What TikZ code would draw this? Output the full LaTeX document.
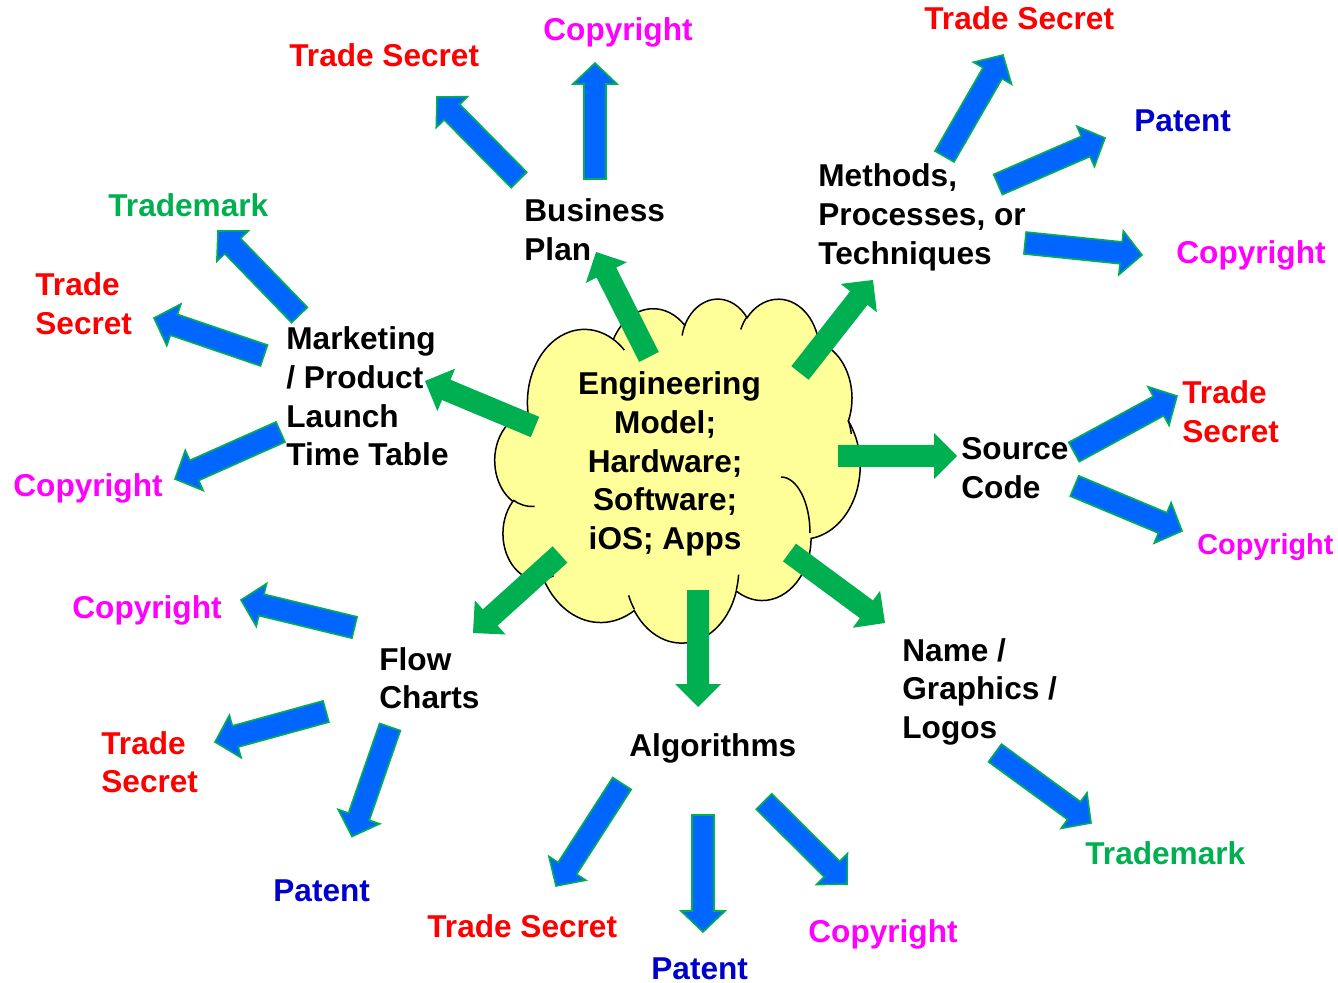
\documentclass[tikz,border=0pt]{standalone}
\usepackage{fontspec}
\setmainfont{Liberation Sans}
\usetikzlibrary{calc}
\definecolor{ablue}{HTML}{0066FF}
\definecolor{agreen}{HTML}{00B050}
\definecolor{cloudy}{HTML}{FFFF99}
\definecolor{tsred}{HTML}{FF0000}
\definecolor{cpmag}{HTML}{FF00FF}
\definecolor{ptblue}{HTML}{0000CC}
\definecolor{tmgreen}{HTML}{00B050}
\newcommand\blockarrow[6]{%
  \path[#1] let \p1=(#5), \p2=(#6), \n1={atan2(\y2-\y1,\x2-\x1)}, \n2={veclen(\x2-\x1,\y2-\y1)} in
   ($(\p1)+(\n1+90:#2)$) -- ($(\p1)+(\n1:\n2*1pt-#4)+(\n1+90:#2)$) -- ($(\p1)+(\n1:\n2*1pt-#4)+(\n1+90:#3)$) -- (\p2)
   -- ($(\p1)+(\n1:\n2*1pt-#4)+(\n1-90:#3)$) -- ($(\p1)+(\n1:\n2*1pt-#4)+(\n1-90:#2)$) -- ($(\p1)+(\n1-90:#2)$) -- cycle;}
\newcommand\bluearrow[2]{\blockarrow{bluearr}{5.5pt}{11pt}{10.5pt}{#1}{#2}}
\newcommand\greenarrow[2]{\blockarrow{greenarr}{5.5pt}{11.5pt}{11.5pt}{#1}{#2}}
\newcommand\lft[1]{\vtop{\halign{##\hfil\cr#1\crcr}}}
\newcommand\ctr[1]{\vtop{\halign{\hfil##\hfil\cr#1\crcr}}}
\newcommand\tsp{\hbox to 0.278em{}}
\begin{document}
\begin{tikzpicture}[x=0.5pt,y=-0.5pt,
  declare function={
    pang(\pw,\ph,\pa)=atan2(\pw*sin(\pa),\ph*cos(\pa));
    corr(\pw,\ph,\pa)=atan2(sin(pang(\pw,\ph,\pa)-\pa),cos(pang(\pw,\ph,\pa)-\pa));
  },
  oarc/.style n args={4}{x radius=#1, y radius=#2,
    start angle={#3+corr(#1,#2,#3)},
    delta angle={#4+corr(#1,#2,#3+#4)-corr(#1,#2,#3)}},
  bluearr/.style={fill=ablue, draw=agreen, line width=0.8pt},
  greenarr/.style={fill=agreen},
  cloudline/.style={draw=black, line width=0.75pt},
  lbl/.style={font=\bfseries\fontsize{15.8}{19.3}\selectfont, inner sep=0pt, anchor=base west},
  ctrlbl/.style={font=\bfseries\fontsize{15.8}{19.3}\selectfont, inner sep=0pt, anchor=base}]
\useasboundingbox (0,0) rectangle (1338,983);
% cloud
\begin{scope}[shift={(495,298)}, xscale=0.0845, yscale=0.0796]
\path[cloudline, fill=cloudy] (390,1437)
  arc[oarc={675.3}{919}{-190.4875}{123.7805}]
  arc[oarc={533.3}{726.7}{-144.1024}{89.9452}]
  arc[oarc={436.5}{594.5}{-145.8079}{99.7230}]
  arc[oarc={485.7}{659.5}{-130.9861}{117.2417}]
  arc[oarc={533.3}{727.3}{-78.7089}{109.0269}]
  arc[oarc={677.5}{922}{-46.2673}{130.2690}]
  arc[oarc={578.5}{786.7}{0.6250}{114.0333}]
  arc[oarc={675.2}{921.5}{22.4516}{115.1726}]
  arc[oarc={772}{1054.3}{66.2426}{75.7110}]
  arc[oarc={436}{591.8}{-274.9421}{146.7356}]
  arc[oarc={434.5}{594.5}{-246.8285}{152.5189}] -- cycle;
\path[cloudline]
  (469.3,2617.7) arc[oarc={434.5}{594.5}{86.742}{26.4295}]
  (692.8,3489.9) arc[oarc={436}{591.8}{73.6105}{11.4475}]
  (1647.8,3909) arc[oarc={675.2}{921.5}{137.6242}{14.0811}]
  (2882.7,3475.1) arc[oarc={675.2}{921.5}{6.4533}{15.9984}]
  (4179.8,1535.4) arc[oarc={533.3}{727.3}{-30.3220}{18.0811}]
  (3832.4,542.6) arc[oarc={485.7}{659.5}{-13.7443}{14.8548}]
  (2907.8,395.2) arc[oarc={485.7}{659.5}{-149.1815}{18.1959}]
  (2214.1,472) arc[oarc={436.5}{594.5}{-163.4943}{19.0016}]
  (1400,519.2) arc[oarc={675.3}{919}{-66.7070}{12.3194}]
  (412.7,1578.9) arc[oarc={675.3}{919}{157.6544}{11.8582}];
\end{scope}
\path[cloudline] (781,477) arc[start angle=-90, end angle=0, x radius=29, y radius=56];
% green arrows
\greenarrow{649,357}{596,252}
\greenarrow{800,373}{873,280}
\greenarrow{535,427}{425,381}
\greenarrow{838,456}{957,456}
\greenarrow{560,554.5}{473,633}
\greenarrow{698,590}{698,707}
\greenarrow{789.5,552.5}{885,623}
% blue arrows
\bluearrow{519,180}{437,97}
\bluearrow{595,179}{595,63}
\bluearrow{944.5,156.5}{1003,55}
\bluearrow{998,184.5}{1105,138}
\bluearrow{1025,243}{1142,255}
\bluearrow{299.5,315}{218,231}
\bluearrow{264,355.5}{154,318}
\bluearrow{280.5,432}{175,479}
\bluearrow{1074,452}{1177,396}
\bluearrow{1074.5,486}{1182,531}
\bluearrow{354.5,627.5}{241,600}
\bluearrow{326,711.5}{215,742}
\bluearrow{390,727}{352,836.5}
\bluearrow{622,783.5}{556,886}
\bluearrow{703,815}{703,932}
\bluearrow{764,801.5}{847,884}
\bluearrow{995,753}{1091,823}
% central text
\node[ctrlbl] (eng) at (669.5,395) {\ctr{Engineering\cr Model;\tsp\cr Hardware;\tsp\cr Software;\tsp\cr iOS; Apps\tsp\cr}};
% main topics
\node[lbl] (bp) at (524,222) {\lft{Business\cr Plan}};
\node[lbl] (mpt) at (818,187) {\lft{Methods,\cr Processes, or\cr Techniques}};
\node[lbl] (mkt) at (286,350) {\lft{Marketing\cr / Product\cr Launch\cr Time Table}};
\node[lbl] (sc) at (961,460) {\lft{Source\cr Code}};
\node[lbl] (fc) at (379,670) {\lft{Flow\cr Charts}};
\node[lbl] (alg) at (629,756) {Algorithms};
\node[lbl] (ngl) at (902,661) {\lft{Name /\cr Graphics /\cr Logos}};
% labels
\node[lbl, text=cpmag] (c1) at (543,41) {Copyright};
\node[lbl, text=tsred] (t1) at (289,67) {Trade Secret};
\node[lbl, text=tsred] (t2) at (924,30) {Trade Secret};
\node[lbl, text=ptblue] (p1) at (1134,132) {Patent};
\node[lbl, text=cpmag] (c2) at (1176,264) {Copyright};
\node[lbl, text=tmgreen] (m1) at (108,217) {Trademark};
\node[lbl, text=tsred] (t3) at (35,296) {\lft{Trade\cr Secret}};
\node[lbl, text=cpmag] (c3) at (13,497) {Copyright};
\node[lbl, text=tsred] (t4) at (1182,404) {\lft{Trade\cr Secret}};
\node[lbl, text=cpmag, font=\bfseries\fontsize{14.4}{17}\selectfont] (c4) at (1197,554) {Copyright};
\node[lbl, text=cpmag] (c5) at (72,618) {Copyright};
\node[lbl, text=tsred] (t5) at (101,754) {\lft{Trade\cr Secret}};
\node[lbl, text=ptblue] (p2) at (273,901) {Patent};
\node[lbl, text=tsred] (t6) at (427,937) {Trade Secret};
\node[lbl, text=ptblue] (p3) at (651,979) {Patent};
\node[lbl, text=cpmag] (c6) at (808,942) {Copyright};
\node[lbl, text=tmgreen] (m2) at (1085,864) {Trademark};
\end{tikzpicture}
\end{document}
